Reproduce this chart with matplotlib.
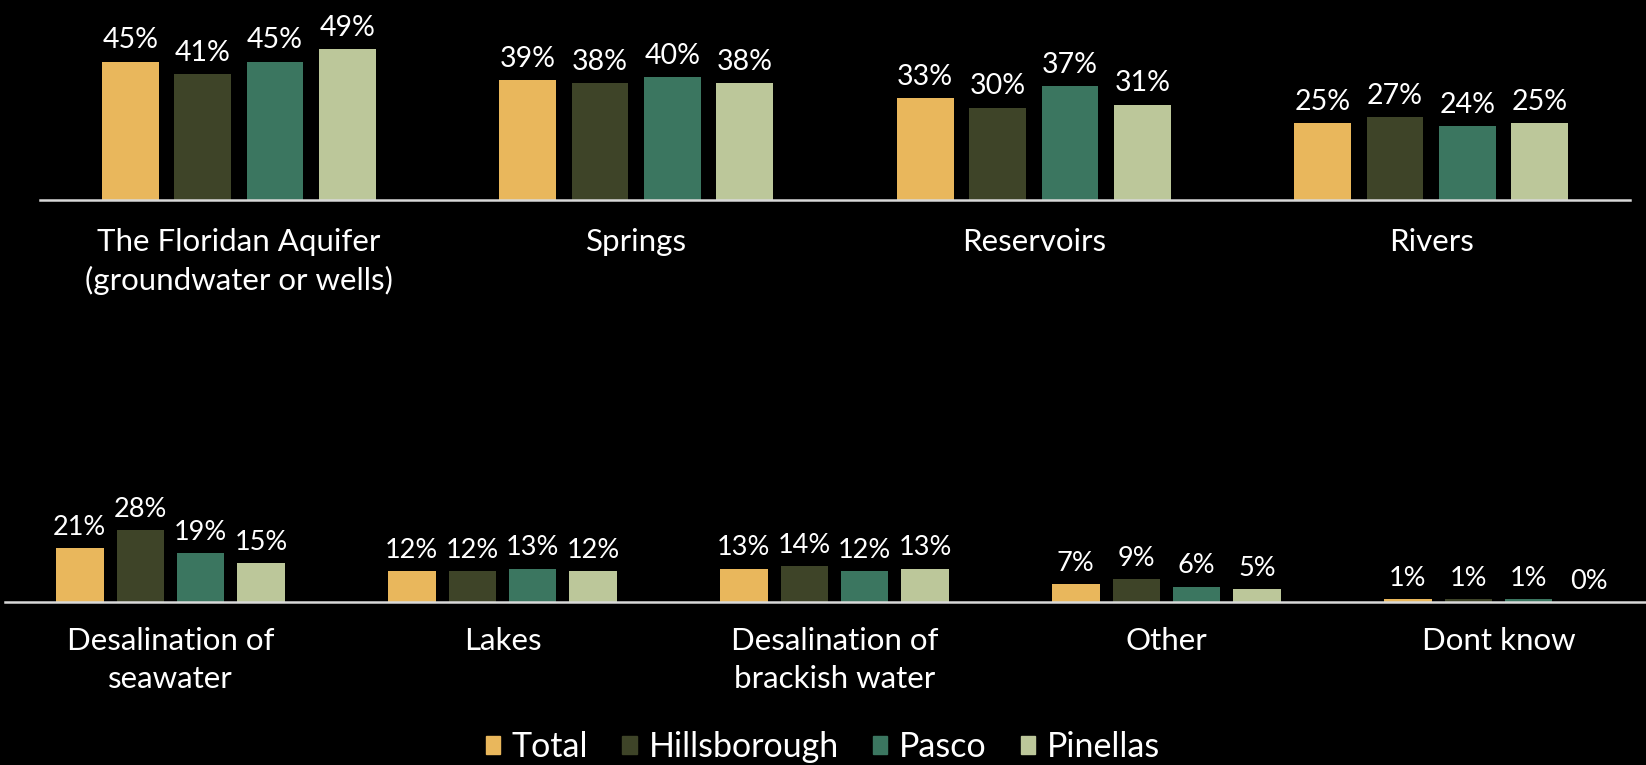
import matplotlib
matplotlib.use("Agg")
import matplotlib.pyplot as plt
import numpy as np
from matplotlib.patches import Patch

plt.rcParams["font.family"] = ["Lato", "DejaVu Sans"]

series = ["Total", "Hillsborough", "Pasco", "Pinellas"]
colors = ["#E9B75C", "#3E4428", "#3B7660", "#BCC79A"]

top_cats = ["The Floridan Aquifer\n(groundwater or wells)", "Springs", "Reservoirs", "Rivers"]
top_total = [45, 39, 33, 25]
top_hills = [41, 38, 30, 27]
top_pasco = [45, 40, 37, 24]
top_pinel = [49, 38, 31, 25]

bot_cats = ["Desalination of\nseawater", "Lakes", "Desalination of\nbrackish water", "Other", "Dont know"]
bot_total = [21, 12, 13, 7, 1]
bot_hills = [28, 12, 14, 9, 1]
bot_pasco = [19, 13, 12, 6, 1]
bot_pinel = [15, 12, 13, 5, 0]

W, H = 1646, 765
fig = plt.figure(figsize=(W / 100, H / 100), dpi=100, facecolor="black")

width = 0.143
step = 0.182
offsets = [-1.5 * step, -0.5 * step, 0.5 * step, 1.5 * step]


def draw(ax, cats, data, ymax, label_size, pad):
    x = np.arange(len(cats))
    for vals, col, off in zip(data, colors, offsets):
        bars = ax.bar(x + off, vals, width, color=col, edgecolor=col, linewidth=0)
        for b, v in zip(bars, vals):
            ax.annotate(f"{v}%", (b.get_x() + b.get_width() / 2, v),
                        xytext=(0, 6), textcoords="offset points",
                        ha="center", va="bottom", color="white",
                        fontsize=label_size, annotation_clip=False)
    ax.set_facecolor("black")
    ax.set_xlim(-0.5, len(cats) - 0.5)
    ax.set_ylim(0, ymax)
    ax.set_xticks(x)
    ax.set_xticklabels(cats, color="white", fontsize=22.5, linespacing=1.42)
    ax.tick_params(axis="x", length=0, pad=pad)
    ax.set_yticks([])
    for s in ["top", "left", "right"]:
        ax.spines[s].set_visible(False)
    ax.spines["bottom"].set_color("#D9D9D9")
    ax.spines["bottom"].set_linewidth(1.8)


# top panel: baseline at y=200px, 3.077 px per %
ax1 = fig.add_axes([40 / W, (H - 200) / H, 1590 / W, 200 / H])
draw(ax1, top_cats, [top_total, top_hills, top_pasco, top_pinel], 65, 20.5, 20)

# bottom panel: baseline at y=602px, 2.57 px per %
ax2 = fig.add_axes([4.5 / W, (H - 602) / H, 1660 / W, 40 * 2.57 / H])
draw(ax2, bot_cats, [bot_total, bot_hills, bot_pasco, bot_pinel], 40, 19.5, 18)

handles = [Patch(facecolor=c, edgecolor=c) for c in colors]
leg = fig.legend(handles, series, loc="center", bbox_to_anchor=(0.5, (H - 747) / H),
                 ncol=4, frameon=False, fontsize=24.5, handlelength=0.42, handleheight=0.42,
                 handletextpad=0.35, columnspacing=1.0, labelcolor="white")

fig.savefig("out.png", dpi=100, facecolor="black")
